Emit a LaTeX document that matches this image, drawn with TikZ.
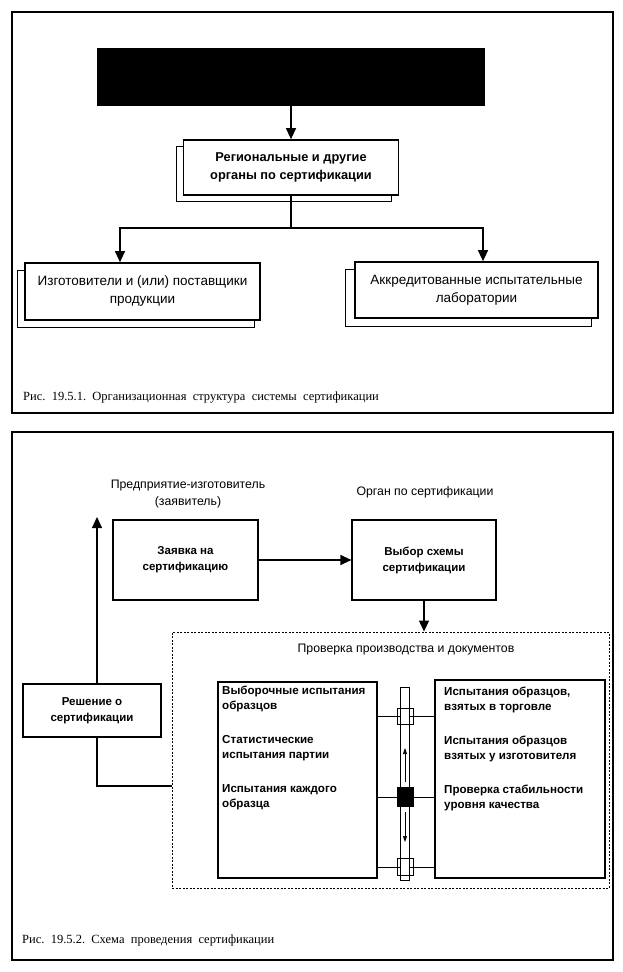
\documentclass[tikz,border=0pt]{standalone}
\usepackage{fontspec}
\setmainfont{Liberation Serif}
\setsansfont{Liberation Sans}
\usetikzlibrary{arrows.meta}
\begin{document}
\begin{tikzpicture}[x=1pt,y=-1pt,
  frame/.style={draw,line width=1.4pt},
  arr/.style={-{Triangle[length=11pt,width=10pt]},line width=1.2pt},
  thinarr/.style={-{Triangle[length=6pt,width=4pt]},line width=0.7pt},
  blackbox/.style={draw,fill=black,minimum width=387pt,minimum height=57pt,inner sep=0pt},
  frontbox/.style={draw,fill=white,line width=1.7pt,inner sep=0pt,align=center,
    font=\sffamily\fontsize{13.5pt}{18pt}\selectfont},
  shadowbox/.style={draw,fill=white,line width=0.9pt,inner sep=0pt},
  plainbox/.style={draw,fill=white,line width=1.2pt,inner sep=0pt,align=center,
    font=\sffamily\bfseries\fontsize{11.5pt}{16pt}\selectfont},
  label/.style={font=\sffamily\fontsize{12.3pt}{17pt}\selectfont,align=center,inner sep=0pt},
  listtext/.style={font=\sffamily\bfseries\fontsize{11.6pt}{15pt}\selectfont,align=left,inner sep=0pt,anchor=north west},
  caption/.style={font=\rmfamily\fontsize{12.5pt}{15pt}\selectfont,anchor=west,inner sep=0pt},
  dashedframe/.style={draw,line width=0.9pt,dash pattern=on 2pt off 1.5pt}
]
\useasboundingbox (0,0) rectangle (623,972);
\fill[white] (0,0) rectangle (623,972);

% ---------- Panel 1 ----------
\draw[frame] (12,12) rectangle (613,413);
\node[blackbox] (top) at (291,76.5) {};

\node[shadowbox,minimum width=215pt,minimum height=55pt] (regsh) at (283.5,173.5) {};
\node[frontbox,font=\sffamily\bfseries\fontsize{12.8pt}{18pt}\selectfont,
  minimum width=215pt,minimum height=55pt] (region) at (291,167.5)
  {Региональные и другие\\органы по сертификации};
\draw[arr] (top.south) -- (region.north);

\node[shadowbox,minimum width=237pt,minimum height=57pt] (leftsh) at (135.5,298.5) {};
\node[frontbox,minimum width=235pt,minimum height=57pt] (left) at (142.5,291.5)
  {Изготовители и (или) поставщики\\продукции};

\node[shadowbox,minimum width=246pt,minimum height=57pt] (rightsh) at (468,297.5) {};
\node[frontbox,minimum width=243pt,minimum height=56pt] (right) at (476.5,290)
  {Аккредитованные испытательные\\лаборатории};

\coordinate (jl) at (120,228);
\coordinate (jr) at (483,228);
\draw[arr] (region.south) -- (region.south |- jl) -| (jl |- left.north);
\draw[arr] (region.south |- jl) -| (jr |- right.north);

\node[caption] (cap1) at (23,398) {Рис.\ \ 19.5.1.\ \ Организационная\ \ структура\ \ системы\ \ сертификации};

% ---------- Panel 2 ----------
\draw[frame] (12,432) rectangle (613,960);

\node[label] (lab1) at (188,494) {Предприятие-изготовитель\\(заявитель)};
\node[label] (lab2) at (425,492) {Орган по сертификации};

\node[plainbox,minimum width=145pt,minimum height=80pt] (zayav) at (185.5,560)
  {Заявка на\\сертификацию};
\node[plainbox,minimum width=144pt,minimum height=80pt] (vybor) at (424,560)
  {Выбор схемы\\сертификации};
\draw[arr] (zayav.east) -- (vybor.west);

\node[dashedframe,minimum width=437pt,minimum height=256pt,inner sep=0pt] (check) at (390.5,760) {};
\draw[arr] (vybor.south) -- (vybor.south |- check.north);
\node[label] (lab3) at (406,650) {Проверка производства и документов};

\node[plainbox,minimum width=159pt,minimum height=196pt] (lbox) at (297.5,780) {};
\node[plainbox,minimum width=170pt,minimum height=198pt] (rbox) at (520,779) {};

\node[listtext] (ltext) at (222,686)
  {Выборочные испытания\\образцов\\[19pt]Статистические\\испытания партии\\[19pt]Испытания каждого\\образца};
\node[listtext] (rtext) at (444,687)
  {Испытания образцов,\\взятых в торговле\\[19pt]Испытания образцов\\взятых у изготовителя\\[19pt]Проверка стабильности\\уровня качества};

% connectors between columns
\coordinate (r1) at (0,716);
\coordinate (r2) at (0,797);
\coordinate (r3) at (0,867);
\draw[line width=1pt] (lbox.east |- r1) -- (rbox.west |- r1);
\draw[line width=1pt] (lbox.east |- r2) -- (rbox.west |- r2);
\draw[line width=1pt] (lbox.east |- r3) -- (rbox.west |- r3);

% rod
\node[draw,fill=white,line width=1pt,minimum width=9pt,minimum height=193pt,inner sep=0pt] (rod) at (404.5,783.5) {};
\node[draw,line width=1pt,minimum width=16pt,minimum height=16pt,inner sep=0pt] (sq1) at (405,716) {};
\node[draw,fill=black,line width=1pt,minimum width=16pt,minimum height=19pt,inner sep=0pt] (sq2) at (405,797) {};
\node[draw,line width=1pt,minimum width=16pt,minimum height=17pt,inner sep=0pt] (sq3) at (405,867) {};
\coordinate (u1) at (405,782);
\coordinate (u2) at (405,748);
\coordinate (d1) at (405,812);
\coordinate (d2) at (405,842);
\draw[thinarr] (u1) -- (u2);
\draw[thinarr] (d1) -- (d2);

% decision
\node[plainbox,minimum width=138pt,minimum height=53pt] (decis) at (92,710.5)
  {Решение о\\сертификации};
\coordinate (upx) at (97,517);
\coordinate (fby) at (0,786);
\draw[arr] (decis.north -| upx) -- (upx);
\draw[line width=1.2pt] (decis.south -| upx) |- (check.west |- fby);

\node[caption] (cap2) at (22,940) {Рис.\ \ 19.5.2.\ \ Схема\ \ проведения\ \ сертификации};
\end{tikzpicture}
\end{document}
